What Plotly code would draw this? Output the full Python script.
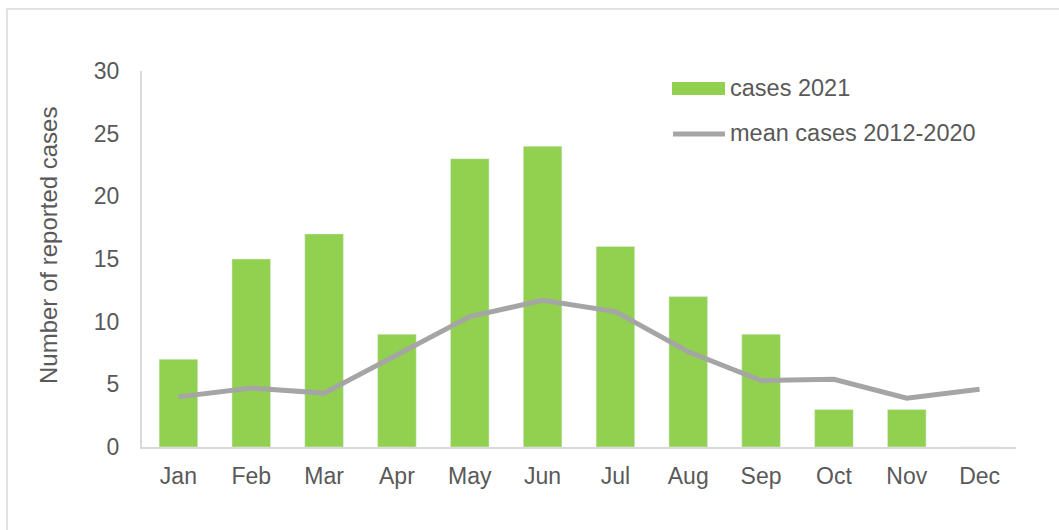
import plotly.graph_objects as go

months = ["Jan", "Feb", "Mar", "Apr", "May", "Jun", "Jul", "Aug", "Sep", "Oct", "Nov", "Dec"]
cases_2021 = [7, 15, 17, 9, 23, 24, 16, 12, 9, 3, 3, 0]
mean_2012_2020 = [4.0, 4.7, 4.3, 7.3, 10.4, 11.7, 10.8, 7.6, 5.3, 5.4, 3.9, 4.6]
y_ticks = [0, 5, 10, 15, 20, 25, 30]
legend_labels = ["cases 2021", "mean cases 2012-2020"]
y_title = "Number of reported cases"

GREEN = "#92D050"
GRAY = "#A5A5A5"
TEXT = "#595959"
AXIS = "#D9D9D9"
FONT = "Liberation Sans, Arial, sans-serif"

fig = go.Figure()
fig.add_trace(go.Bar(x=months, y=cases_2021, marker_color=GREEN, name=legend_labels[0],
                     showlegend=False))
fig.add_trace(go.Scatter(x=months, y=mean_2012_2020, mode="lines", name=legend_labels[1],
                         line=dict(color=GRAY, width=5), showlegend=False))

W, H = 1059, 530
L, R, T, B = 142, 43, 71, 83
pw, ph = W - L - R, H - T - B

def px(x):
    return (x - L) / pw

def py(y):
    return (H - B - y) / ph

shapes = [
    # outer chart border
    dict(type="rect", xref="paper", yref="paper", x0=px(7), x1=px(1070), y0=py(9), y1=py(545),
         line=dict(color=AXIS, width=1.5), fillcolor="rgba(0,0,0,0)", layer="below"),
    # legend symbols
    dict(type="rect", xref="paper", yref="paper", x0=px(672), x1=px(725), y0=py(95), y1=py(82),
         line=dict(width=0), fillcolor=GREEN),
    dict(type="line", xref="paper", yref="paper", x0=px(673), x1=px(725), y0=py(134), y1=py(134),
         line=dict(color=GRAY, width=5)),
]
annotations = [
    dict(xref="paper", yref="paper", x=px(728), y=py(88), text=legend_labels[0], showarrow=False,
         xanchor="left", yanchor="middle", font=dict(family=FONT, size=23.5, color=TEXT)),
    dict(xref="paper", yref="paper", x=px(728), y=py(133), text=legend_labels[1], showarrow=False,
         xanchor="left", yanchor="middle", font=dict(family=FONT, size=23.5, color=TEXT)),
    dict(xref="paper", yref="paper", x=px(48), y=py(246), text=y_title, showarrow=False,
         textangle=-90, xanchor="center", yanchor="middle",
         font=dict(family=FONT, size=24, color=TEXT)),
]

fig.update_layout(
    width=W, height=H,
    margin=dict(l=L, r=R, t=T, b=B),
    paper_bgcolor="white", plot_bgcolor="white",
    bargap=0.47,
    shapes=shapes, annotations=annotations,
    font=dict(family=FONT, size=23, color=TEXT),
    xaxis=dict(showline=True, linecolor=AXIS, linewidth=2, showgrid=False, ticks="",
               tickfont=dict(size=23, color=TEXT), ticklabelstandoff=7),
    yaxis=dict(range=[0, 30], tickvals=y_ticks, showline=True, linecolor=AXIS, linewidth=2,
               showgrid=False, zeroline=False, ticks="", tickfont=dict(size=23, color=TEXT),
               ticklabelstandoff=16),
)

fig.write_html("out.html", config={"displayModeBar": False},
               post_script="document.body.style.margin='0';")
